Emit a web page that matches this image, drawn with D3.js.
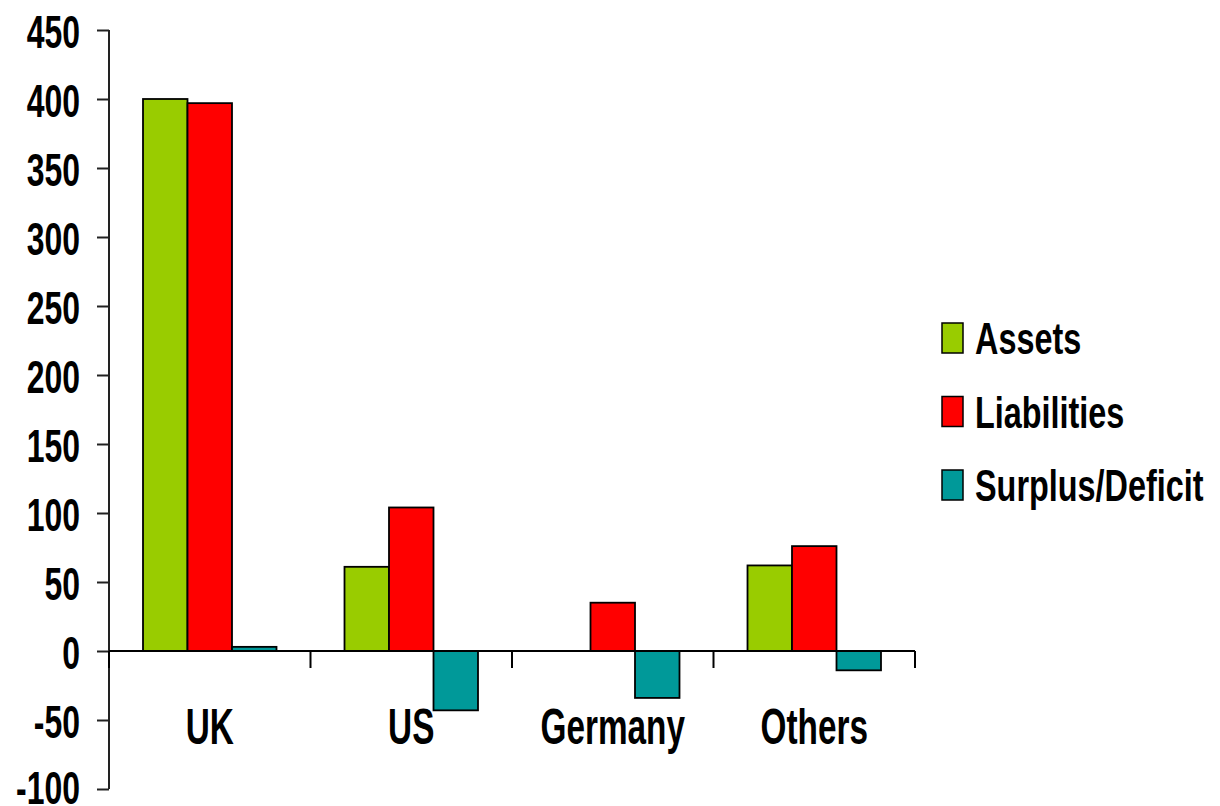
<!DOCTYPE html>
<html>
<head>
<meta charset="utf-8">
<script src="https://cdn.jsdelivr.net/npm/d3@7"></script>
<style>
  html, body { margin: 0; padding: 0; background: #fff; }
  svg { display: block; }
  text { font-family: "Liberation Sans", Arial, sans-serif; font-weight: bold; fill: #000; }
</style>
</head>
<body>
<svg id="chart" width="1220" height="806"></svg>
<script>
// Pension scheme balance by region
const categories = ["UK", "US", "Germany", "Others"];
const seriesNames = ["Assets", "Liabilities", "Surplus/Deficit"];
const assets = [400, 61, 0, 62];
const liabilities = [397, 104, 35, 76];
const surplus = [3, -43, -34, -14];
const yTicks = [-100, -50, 0, 50, 100, 150, 200, 250, 300, 350, 400, 450];
const colors = ["#99CC00", "#FF0000", "#009999"];

const seriesValues = [assets, liabilities, surplus];
const rows = categories.map((c, i) => ({
  category: c,
  values: seriesNames.map((s, j) => ({ series: s, value: seriesValues[j][i], color: colors[j] }))
}));

const svg = d3.select("#chart");
const plotLeft = 109, plotRight = 915, plotTop = 30, plotBottom = 789;
const squeeze = 0.68;

const y = d3.scaleLinear().domain([-100, 450]).range([plotBottom, plotTop]);
const x0 = d3.scaleBand().domain(categories).range([plotLeft, plotRight]);
const groupW = x0.bandwidth() * 0.6625;
const x1 = d3.scaleBand().domain(seriesNames).range([0, groupW]);
const groupOffset = (x0.bandwidth() - groupW) / 2;

// Bars
const groups = svg.append("g").selectAll("g")
  .data(rows).join("g")
  .attr("transform", d => `translate(${x0(d.category) + groupOffset},0)`);

groups.selectAll("rect")
  .data(d => d.values.filter(v => v.value !== 0))
  .join("rect")
  .attr("x", d => x1(d.series))
  .attr("width", x1.bandwidth())
  .attr("y", d => y(Math.max(0, d.value)))
  .attr("height", d => Math.abs(y(d.value) - y(0)))
  .attr("fill", d => d.color)
  .attr("stroke", "#000")
  .attr("stroke-width", 1.8);

// Y axis (plain hyphen for negatives)
const yAxis = svg.append("g")
  .attr("transform", `translate(${plotLeft},0)`)
  .call(d3.axisLeft(y).tickValues(yTicks).tickSize(12).tickFormat(d => String(d)));
yAxis.select(".domain").attr("stroke", "#222").attr("stroke-width", 2)
  .attr("d", `M0,${plotTop}V${plotBottom}`);
yAxis.selectAll(".tick line").attr("stroke", "#222").attr("stroke-width", 2);
yAxis.selectAll(".tick text")
  .attr("x", 0).attr("dy", null)
  // keep the lowest label inside the canvas
  .attr("y", d => d === yTicks[0] ? 14 : 17)
  .attr("transform", `translate(-29,0) scale(${squeeze},1)`)
  .attr("text-anchor", "end")
  .attr("fill", "#000")
  .style("font-size", "47px")
  .style("font-family", "'Liberation Sans', Arial, sans-serif")
  .style("font-weight", "bold");

// Category axis along zero
const zeroY = y(0);
const xAxis = svg.append("g");
xAxis.append("line")
  .attr("x1", plotLeft).attr("x2", plotRight)
  .attr("y1", zeroY).attr("y2", zeroY)
  .attr("stroke", "#000").attr("stroke-width", 2);
const boundaries = categories.map(c => x0(c)).concat([x0(categories[categories.length - 1]) + x0.bandwidth()]);
xAxis.selectAll("line.tick")
  .data(boundaries).join("line")
  .attr("class", "tick")
  .attr("x1", d => d).attr("x2", d => d)
  .attr("y1", zeroY).attr("y2", zeroY + 17)
  .attr("stroke", "#000").attr("stroke-width", 2);

xAxis.selectAll("text")
  .data(categories).join("text")
  .attr("transform", d => `translate(${x0(d) + x0.bandwidth() / 2},744) scale(${squeeze},1)`)
  .attr("text-anchor", "middle")
  .style("font-size", "49px")
  .text(d => d);

// Legend
const legend = svg.append("g").attr("transform", "translate(942,0)");
const legendRows = [338, 411.5, 485];
const items = legend.selectAll("g")
  .data(seriesNames).join("g")
  .attr("transform", (d, i) => `translate(0,${legendRows[i]})`);
items.append("rect")
  .attr("x", 0).attr("y", -15)
  .attr("width", 21).attr("height", 30)
  .attr("fill", (d, i) => colors[i])
  .attr("stroke", "#000").attr("stroke-width", 1.5);
items.append("text")
  .attr("transform", `translate(33,16) scale(0.72,1)`)
  .style("font-size", "45px")
  .text(d => d);
</script>
</body>
</html>
